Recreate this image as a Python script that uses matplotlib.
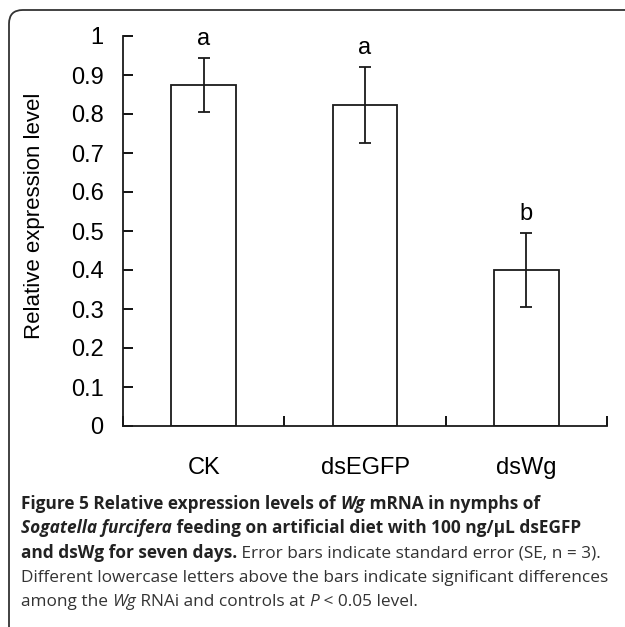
import numpy as np
import matplotlib
matplotlib.use("Agg")
import matplotlib.pyplot as plt
from matplotlib.patches import FancyBboxPatch

# data
groups = ["CK", "dsEGFP", "dsWg"]
values = [0.874, 0.823, 0.400]
errors = [0.070, 0.097, 0.095]
letters = ["a", "a", "b"]
yticks = [0, 0.1, 0.2, 0.3, 0.4, 0.5, 0.6, 0.7, 0.8, 0.9, 1]
ytick_labels = ["0", "0.1", "0.2", "0.3", "0.4", "0.5", "0.6", "0.7", "0.8", "0.9", "1"]

W, H = 625, 627
fig = plt.figure(figsize=(W / 100, H / 100), dpi=100)
fig.patch.set_facecolor("white")

# rounded frame (only top/left visible)
frame = FancyBboxPatch((9 / W, -0.05), 1.2, 1 - 10 / H + 0.05,
                       boxstyle="round,pad=0,rounding_size=0.022",
                       transform=fig.transFigure, fill=False,
                       edgecolor="#333333", linewidth=1.3, clip_on=False)
fig.patches.append(frame)

ax = fig.add_axes([123 / W, 1 - 426 / H, (607 - 123) / W, (426 - 36) / H])
x = np.arange(len(groups)) + 0.5
ax.bar(x, values, width=0.4, color="white", edgecolor="#1a1a1a", linewidth=1.3, zorder=2)
ax.errorbar(x, values, yerr=errors, fmt="none", ecolor="#1a1a1a", elinewidth=1.3,
            capsize=4.5, capthick=1.3, zorder=3)
for xi, v, e, l in zip(x, values, errors, letters):
    ax.text(xi, v + e + 0.02, l, ha="center", va="bottom", fontsize=17,
            family="Liberation Sans")

ax.set_xlim(0, 3)
ax.set_ylim(0, 1)
for s in ["top", "right"]:
    ax.spines[s].set_visible(False)
for s in ["left", "bottom"]:
    ax.spines[s].set_linewidth(1.3)
    ax.spines[s].set_color("#1a1a1a")

ax.set_yticks(yticks)
ax.set_yticklabels(ytick_labels, family="Liberation Sans", fontsize=17)
ax.tick_params(axis="y", direction="in", length=7, width=1.3, pad=14)
ax.set_xticks([0, 1, 2, 3])
ax.set_xticklabels([])
ax.tick_params(axis="x", which="major", direction="in", length=7, width=1.3)
ax.set_xticks(x, minor=True)
ax.set_xticklabels(groups, minor=True, family="Liberation Sans", fontsize=17)
ax.tick_params(axis="x", which="minor", length=0, pad=22)
ax.set_ylabel("Relative expression level", family="Liberation Sans", fontsize=16)
ax.yaxis.set_label_coords(-0.162, 0.54)

# caption with mixed styles
renderer = fig.canvas.get_renderer()
cap_font = "Open Sans"
probe = fig.text(0, 0, "Different lowercase letters above the bars indicate significant differences",
                 family=cap_font, fontsize=10)
pw = probe.get_window_extent(renderer).width
probe.remove()
cap_size = 10 * (586 / pw)

caption = [
    [("Figure 5 Relative expression levels of ", "bold", "normal"),
     ("Wg", "bold", "italic"),
     (" mRNA in nymphs of", "bold", "normal")],
    [("Sogatella furcifera", "bold", "italic"),
     (" feeding on artificial diet with 100 ng/\u03bcL dsEGFP", "bold", "normal")],
    [("and dsWg for seven days.", "bold", "normal"),
     (" Error bars indicate standard error (SE, n = 3).", "normal", "normal")],
    [("Different lowercase letters above the bars indicate significant differences", "normal", "normal")],
    [("among the ", "normal", "normal"), ("Wg", "normal", "italic"),
     (" RNAi and controls at ", "normal", "normal"), ("P", "normal", "italic"),
     (" < 0.05 level.", "normal", "normal")],
]
baselines = [509, 533, 558, 582, 606]
for line, yb in zip(caption, baselines):
    xp = 21
    for s, wt, st in line:
        t = fig.text(xp / W, 1 - yb / H, s, family=cap_font, fontsize=cap_size,
                     weight=wt, style=st, color="#222222" if wt == "bold" else "#333333",
                     va="baseline", ha="left")
        xp += t.get_window_extent(renderer).width

fig.savefig("out.png", dpi=100)
